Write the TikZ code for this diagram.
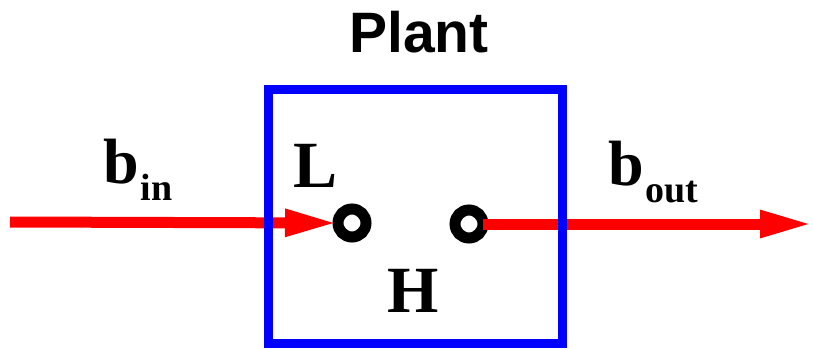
\documentclass[tikz,border=0pt]{standalone}
\usepackage{fontspec}
\setmainfont{Liberation Serif}
\newfontfamily\headfont{Liberation Sans}
\usetikzlibrary{arrows.meta,positioning}
\definecolor{flowred}{RGB}{255,0,0}
\definecolor{boxblue}{RGB}{0,0,255}
\newcommand{\sig}[2]{{\fontsize{64}{70}\selectfont #1}\kern2pt\raisebox{-17pt}{\fontsize{38}{42}\selectfont #2}}
\tikzset{
  plantbox/.style={draw=boxblue,line width=9pt,minimum width=294pt,minimum height=253pt,inner sep=0pt},
  port/.style={circle,draw=black,fill=white,line width=11pt,minimum size=28pt,inner sep=0pt,outer sep=0pt},
  flow/.style={flowred,line width=11pt,-{Triangle[length=53pt,width=25pt]}},
  bigletter/.style={font=\fontsize{66}{72}\selectfont\bfseries,anchor=base,inner sep=0pt}
}
\begin{document}
\begin{tikzpicture}[x=1pt,y=-1pt]
  \useasboundingbox (0,0) rectangle (813,350);
  \node[font=\headfont\fontsize{57}{62}\selectfont\bfseries,anchor=base,inner sep=0pt] (title) at (419,53) {Plant};
  \coordinate (src) at (10,222);
  \coordinate (sink) at (813,224);
  \node[port] (lo) at (352,223) {};
  \node[port] (hi) at (469,224) {};
  \draw[flow] (src) -- (lo.west);
  \draw[flow] (hi.east) -- (sink);
  \node[plantbox] (plant) at (415,216.5) {};
  \node[bigletter] (lname) at (316,187) {L};
  \node[bigletter] (hname) at (413,312) {H};
  \node[font=\bfseries,anchor=base west,inner sep=0pt] (bin) at (103,183) {\sig{b}{in}};
  \node[font=\bfseries,anchor=base west,inner sep=0pt] (bout) at (608,185) {\sig{b}{out}};
\end{tikzpicture}
\end{document}
